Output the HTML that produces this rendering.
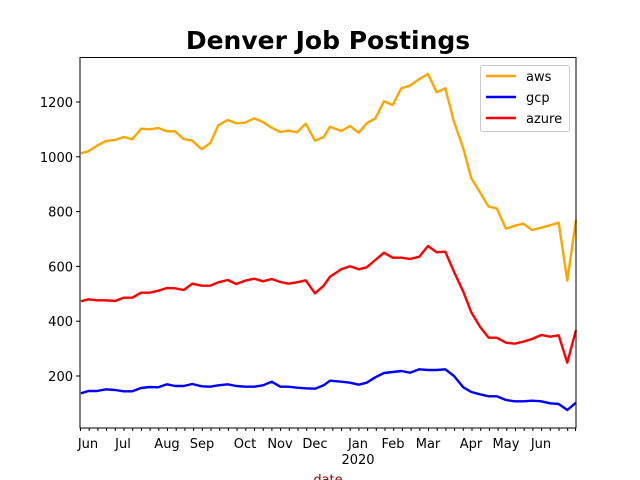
<!DOCTYPE html>
<html><head><meta charset="utf-8"><style>body{margin:0;background:#fff}svg{display:block}</style></head><body>
<svg width="640" height="480" viewBox="0 0 640 480" xmlns="http://www.w3.org/2000/svg" font-family="DejaVu Sans, Liberation Sans, sans-serif">
<rect width="640" height="480" fill="#fff"/>
<text x="328" y="49" text-anchor="middle" font-size="25" font-weight="bold">Denver Job Postings</text>
<g fill="none" stroke-width="2.4" stroke-linejoin="round">
<polyline stroke="orange" points="81,153.3 88.3,151.3 97,145.7 106,141 115,140 123.7,137 132.3,139.3 141,128.7 149.7,129.3 158.3,128 167,131.3 175,131.3 183.7,139 192.3,140.7 201.7,149.3 210.3,143 218.3,125.3 227.7,120 236.3,123.3 245,122.7 254.3,118.3 263,122 271.7,127.7 280.3,132 288.3,130.7 297,132.3 305.7,123.7 315,140.7 323.7,137 330,126.7 341.3,131 350,126 358.7,132.7 366.7,123.3 375.3,118.3 384,101.3 392.7,105 401.3,88.3 410,85.7 419.3,79 428,74 436.7,92.3 445.3,88.3 454,121.7 463.3,148.3 471.3,178.3 480,192.3 488.7,206.7 496.7,208.3 506,228.7 514.7,225.7 523.3,223.7 532,230 541.3,227.7 550,225.3 558.7,222.7 567.3,280.7 576,220"/>
<polyline stroke="blue" points="81,393.3 88.3,391 97,391 106,389.3 115,390 123.7,391.3 132.3,391.3 141,388 149.7,387 158.3,387.3 167,384.3 175,386 183.7,386 192.3,384 201.7,386.3 210.3,386.7 218.3,385.3 227.7,384.3 236.3,386 245,386.7 254.3,386.7 263,385.3 271.7,381.7 280.3,386.7 288.3,386.7 297,387.7 305.7,388.3 315,388.7 323.7,385.3 330,380.7 341.3,381.7 350,382.7 358.7,384.7 366.7,382.7 375.3,377.3 384,373 392.7,372 401.3,371 410,372.7 419.3,369.3 428,370 436.7,370 445.3,369.3 454,376 463.3,387.3 471.3,392 480,394.3 488.7,396.3 496.7,396.3 506,400 514.7,401.3 523.3,401.3 532,400.7 541.3,401.3 550,403.3 558.7,404 567.3,410 576,402.7"/>
<polyline stroke="red" points="81,301.3 88.3,299.3 97,300.3 106,300.3 115,301 123.7,297.7 132.3,297.7 141,292.7 149.7,292.7 158.3,290.7 167,288 175,288.3 183.7,290 192.3,283.7 201.7,285.7 210.3,285.7 218.3,282.3 227.7,280 236.3,284 245,280.7 254.3,278.7 263,281.3 271.7,279 280.3,282 288.3,283.7 297,282.3 305.7,280.3 315,293.3 323.7,285.7 330,276.7 341.3,269.3 350,266.3 358.7,269.3 366.7,267.3 375.3,260 384,252.7 392.7,257.7 401.3,257.7 410,259 419.3,256.7 428,246 436.7,252.3 445.3,251.7 454,271.7 463.3,291.7 471.3,312.3 480,326.7 488.7,337.7 496.7,337.7 506,342.7 514.7,343.7 523.3,341.7 532,339 541.3,335 550,336.7 558.7,335.3 567.3,362.7 576,330"/>
</g>
<rect x="80" y="57.5" width="496" height="370.5" fill="none" stroke="#000" stroke-width="1"/>
<g stroke="#000" stroke-width="1">
<line x1="76" y1="102" x2="80" y2="102"/><line x1="76" y1="156.8" x2="80" y2="156.8"/><line x1="76" y1="211.6" x2="80" y2="211.6"/><line x1="76" y1="266.4" x2="80" y2="266.4"/><line x1="76" y1="321.2" x2="80" y2="321.2"/><line x1="76" y1="376" x2="80" y2="376"/>
</g>
<g font-size="13" text-anchor="end">
<text x="73" y="107">1200</text><text x="73" y="161.8">1000</text><text x="73" y="216.6">800</text><text x="73" y="271.4">600</text><text x="73" y="326.2">400</text><text x="73" y="381">200</text>
</g>
<g font-size="13" text-anchor="middle">
<text x="88" y="448">Jun</text><text x="123" y="448">Jul</text><text x="167" y="448">Aug</text><text x="202" y="448">Sep</text><text x="245" y="448">Oct</text><text x="280" y="448">Nov</text><text x="315" y="448">Dec</text><text x="358" y="448">Jan</text><text x="358" y="464">2020</text><text x="393" y="448">Feb</text><text x="428" y="448">Mar</text><text x="471" y="448">Apr</text><text x="506" y="448">May</text><text x="541" y="448">Jun</text>
</g>
<text x="328" y="484" text-anchor="middle" font-size="13" fill="#8b0000">date</text>
<path stroke="#000" stroke-width="1" d="M80.5,428v3M89.2,428v3M97.9,428v3M106.6,428v3M115.3,428v3M124,428v3M132.7,428v3M141.4,428v3M150.1,428v3M158.8,428v3M167.5,428v3M176.2,428v3M184.9,428v3M193.6,428v3M202.3,428v3M211,428v3M219.7,428v3M228.4,428v3M237.1,428v3M245.8,428v3M254.5,428v3M263.2,428v3M271.9,428v3M280.6,428v3M289.3,428v3M298,428v3M306.7,428v3M315.4,428v3M324.1,428v3M332.8,428v3M341.5,428v3M350.2,428v3M358.9,428v3M367.6,428v3M376.3,428v3M385,428v3M393.7,428v3M402.4,428v3M411.1,428v3M419.8,428v3M428.5,428v3M437.2,428v3M445.9,428v3M454.6,428v3M463.3,428v3M472,428v3M480.7,428v3M489.4,428v3M498.1,428v3M506.8,428v3M515.5,428v3M524.2,428v3M532.9,428v3M541.6,428v3M550.3,428v3M559,428v3M567.7,428v3M575.5,428v3"/>
<rect x="480.5" y="65.5" width="89" height="66" rx="2" fill="#fff" fill-opacity="0.8" stroke="#ccc"/>
<g stroke-width="2.4"><line x1="486" y1="76" x2="516" y2="76" stroke="orange"/><line x1="486" y1="97" x2="516" y2="97" stroke="blue"/><line x1="486" y1="118" x2="516" y2="118" stroke="red"/></g>
<g font-size="13"><text x="526" y="81">aws</text><text x="526" y="102">gcp</text><text x="526" y="123">azure</text></g>
</svg>
</body></html>
